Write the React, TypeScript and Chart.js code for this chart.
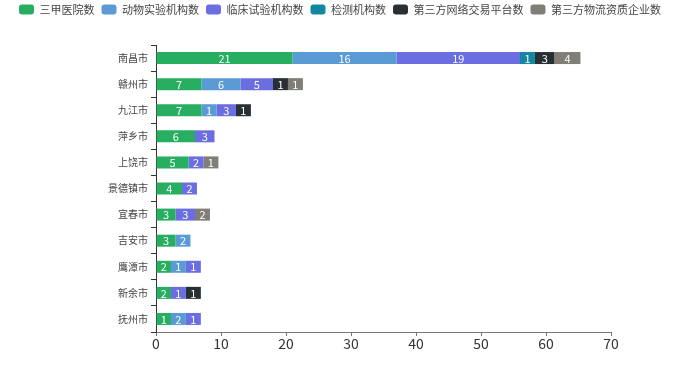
import React, { useEffect, useRef } from "react";
import { Chart, registerables } from "chart.js";

Chart.register(...registerables);

// ---- Data ----
const cities = ["南昌市", "赣州市", "九江市", "萍乡市", "上饶市", "景德镇市", "宜春市", "吉安市", "鹰潭市", "新余市", "抚州市"];
const seriesNames = ["三甲医院数", "动物实验机构数", "临床试验机构数", "检测机构数", "第三方网络交易平台数", "第三方物流资质企业数"];
const hospitals = [21, 7, 7, 6, 5, 4, 3, 3, 2, 2, 1];
const animalLabs = [16, 6, 1, 0, 0, 0, 0, 2, 1, 0, 2];
const clinicalOrgs = [19, 5, 3, 3, 2, 2, 3, 0, 1, 1, 1];
const testingOrgs = [1, 0, 0, 0, 0, 0, 0, 0, 0, 0, 0];
const onlinePlatforms = [3, 1, 1, 0, 0, 0, 0, 0, 0, 1, 0];
const logisticsFirms = [4, 1, 0, 0, 1, 0, 2, 0, 0, 0, 0];
const xTickValues = [0, 10, 20, 30, 40, 50, 60, 70];

// ---- Style ----
const seriesColors = ["#27ae60", "#5b9bd5", "#6a6ee0", "#13879f", "#293034", "#817d77"];
const FONT = "'Noto Sans CJK SC', 'Noto Sans', sans-serif";
// minimum drawn length of a segment (in axis units, ~15px), like the source's min bar length
const MIN_SEGMENT = 2.3;

const seriesValues = [hospitals, animalLabs, clinicalOrgs, testingOrgs, onlinePlatforms, logisticsFirms];

function buildFloating(): ([number, number] | null)[][] {
  const starts = cities.map(() => 0);
  return seriesValues.map((vals) =>
    vals.map((v, i) => {
      if (!v) return null;
      const len = Math.max(v, MIN_SEGMENT);
      const seg: [number, number] = [starts[i], starts[i] + len];
      starts[i] += len;
      return seg;
    })
  );
}

const labelPlugin = {
  id: "segLabels",
  afterDatasetsDraw(chart: any) {
    const ctx = chart.ctx;
    ctx.save();
    ctx.font = `11px ${FONT}`;
    ctx.fillStyle = "#ffffff";
    ctx.textAlign = "center";
    ctx.textBaseline = "middle";
    chart.data.datasets.forEach((_ds: any, di: number) => {
      const meta = chart.getDatasetMeta(di);
      meta.data.forEach((el: any, i: number) => {
        const v = seriesValues[di][i];
        if (!v) return;
        const p = el.getProps(["x", "y", "base"], true);
        ctx.fillText(String(v), (p.x + p.base) / 2, p.y + 0.5);
      });
    });
    ctx.restore();
  },
};

const hiddenAxis = (pos: string, size: number) => ({
  type: "linear",
  position: pos,
  display: true,
  ticks: { display: false },
  grid: { display: false, drawTicks: false },
  border: { display: false },
  afterFit: (s: any) => {
    if (pos === "top" || pos === "bottom") s.height = size;
    else s.width = size;
  },
});

export default function App() {
  const ref = useRef<HTMLCanvasElement | null>(null);

  useEffect(() => {
    document.body.style.margin = "0";
    const floating = buildFloating();
    const chart = new Chart(ref.current as HTMLCanvasElement, {
      type: "bar",
      data: {
        labels: cities,
        datasets: seriesNames.map((name, di) => ({
          label: name,
          data: floating[di] as any,
          backgroundColor: seriesColors[di],
          borderWidth: 0,
          xAxisID: "x",
          yAxisID: "y",
        })),
      },
      options: {
        indexAxis: "y",
        responsive: false,
        animation: false,
        datasets: { bar: { grouped: false, barPercentage: 0.46, categoryPercentage: 1 } },
        layout: { padding: 0 },
        plugins: {
          legend: {
            position: "top",
            onClick: () => {},
            labels: {
              boxWidth: 15,
              boxHeight: 10,
              padding: 7,
              useBorderRadius: true,
              borderRadius: 3,
              color: "#444",
              font: { size: 11, family: FONT },
            },
          },
          tooltip: { enabled: false },
        },
        scales: {
          x: {
            type: "linear",
            position: "bottom",
            min: 0,
            max: 70,
            afterBuildTicks: (s: any) => {
              s.ticks = xTickValues.map((v) => ({ value: v }));
            },
            ticks: { color: "#333", font: { size: 14, family: FONT }, padding: -1 },
            grid: { drawOnChartArea: false, drawTicks: true, tickLength: 4, color: "#777" },
            border: { color: "#777", width: 1 },
            afterFit: (s: any) => {
              s.height = 45;
            },
          },
          xTopSpace: hiddenAxis("top", 20),
          y: {
            type: "category",
            position: "left",
            ticks: { color: "#444", font: { size: 10, family: FONT }, padding: 3 },
            grid: { drawOnChartArea: false, drawTicks: true, tickLength: 5, color: "#333", offset: true },
            border: { color: "#333", width: 1 },
            afterFit: (s: any) => {
              s.width = 156;
            },
          },
          yRightSpace: hiddenAxis("right", 69),
        },
      },
      plugins: [labelPlugin],
    } as any);
    return () => chart.destroy();
  }, []);

  return (
    <div style={{ position: "fixed", left: 0, top: -3, width: 680, height: 380, background: "#fff" }}>
      <canvas ref={ref} width={680} height={380} style={{ display: "block" }} />
    </div>
  );
}
